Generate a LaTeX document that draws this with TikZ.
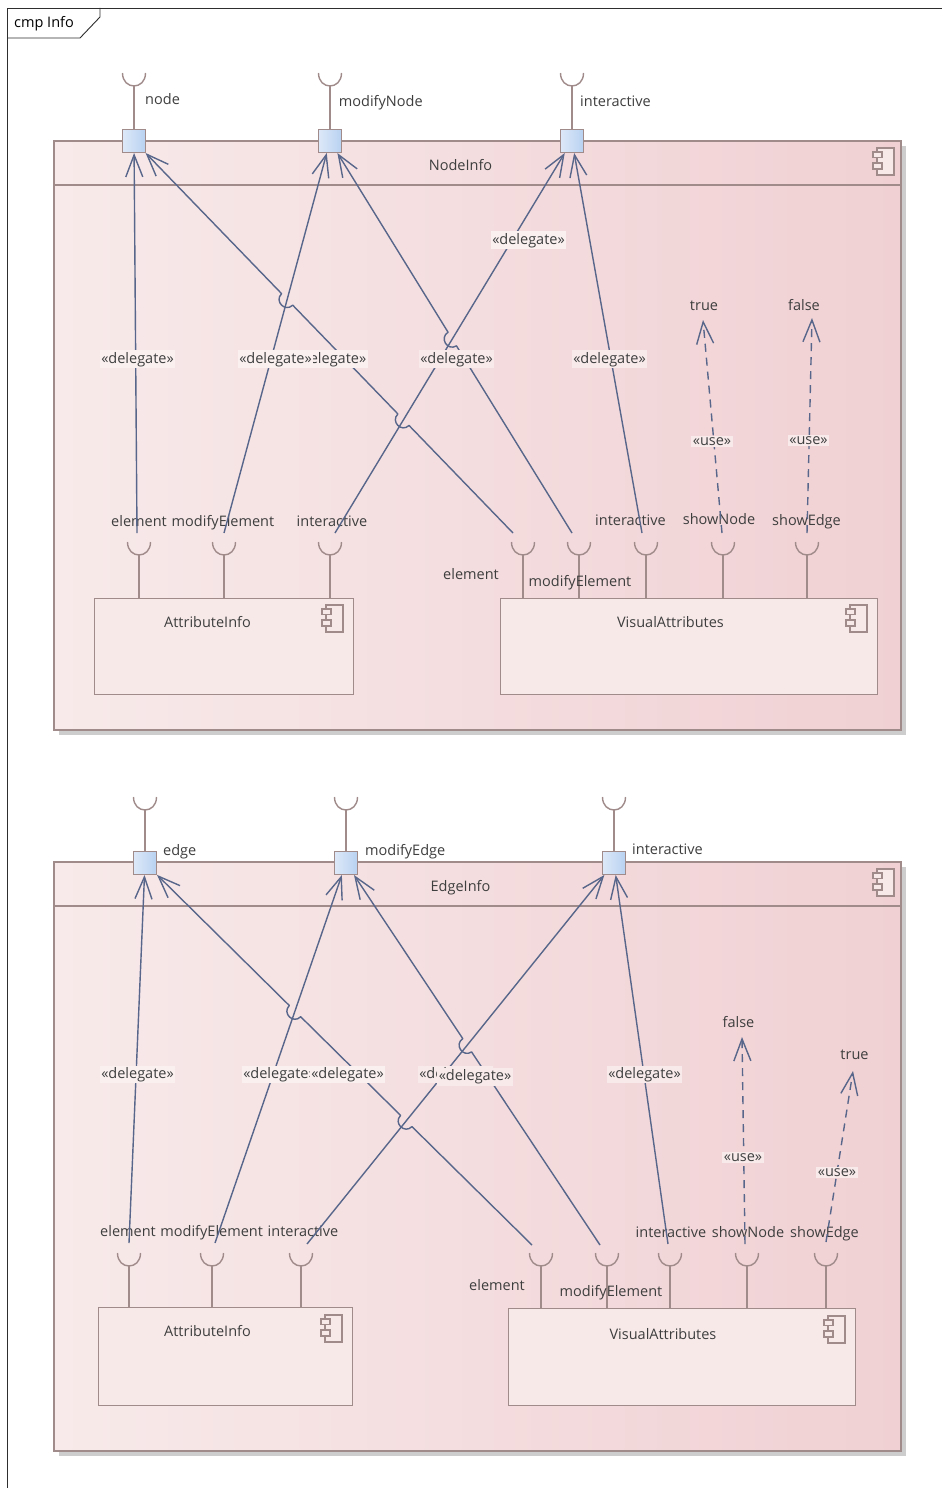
\documentclass[tikz,border=0pt]{standalone}
\usepackage{fontspec}
\setmainfont{Open Sans}
\usetikzlibrary{calc,arrows.meta}

\definecolor{frameline}{HTML}{2E2E2E}
\definecolor{compline}{HTML}{A08A8A}
\definecolor{compleft}{HTML}{F8EAEA}
\definecolor{compright}{HTML}{F0D0D3}
\definecolor{innerfill}{HTML}{F8E9E9}
\definecolor{shadowc}{HTML}{CDCDCD}
\definecolor{conn}{HTML}{57668A}
\definecolor{txt}{HTML}{3E3E3E}
\definecolor{portleft}{HTML}{DDE9F8}
\definecolor{portright}{HTML}{B8D1F1}
\definecolor{lblbgL}{HTML}{FAF0F0}
\definecolor{lblbgR}{HTML}{F8EAEB}

\tikzset{
  every node/.style={font=\fontsize{14.5}{17}\selectfont, text=txt, inner sep=0pt},
  framebox/.style={draw=frameline, line width=0.9pt},
  outercomp/.style={draw=compline, line width=1.4pt, left color=compleft, right color=compright},
  headerline/.style={draw=compline, line width=1.4pt},
  innercomp/.style={draw=compline, line width=1.4pt, fill=innerfill, anchor=north west},
  shadowbox/.style={fill=shadowc},
  port/.style={draw=compline, line width=1pt, left color=portleft, right color=portright, minimum size=23pt},
  socketline/.style={draw=compline, line width=1.4pt},
  icon/.style={draw=compline, line width=1.1pt, fill=innerfill},
  deleg/.style={draw=conn, line width=1.4pt, line join=round, -{Straight Barb[length=22pt,width=17pt]}},
  usedep/.style={deleg, dash pattern=on 8pt off 6pt},
  hop/.style={bend left=90, looseness=1.7},
  stereo/.style={fill=lblbgL, inner sep=1.5pt, anchor=base},
  stereoR/.style={fill=lblbgR, inner sep=1.5pt, anchor=base},
  lbl/.style={anchor=base},
  lblw/.style={anchor=base west},
}

% required-interface cup: #1 = x, #2 = y of the rim, #3 = y where the stem ends
\newcommand\socketcup[3]{%
  \draw[socketline] (#1-11.5,#2) .. controls (#1-11.5,#2+17.3) and (#1+11.5,#2+17.3) .. (#1+11.5,#2);
  \draw[socketline] (#1,#2+13) -- (#1,#3);
}
% component glyph with its top-left corner at (#1,#2)
\newcommand\compicon[2]{%
  \draw[icon] (#1+4,#2) rectangle (#1+21,#2+27);
  \draw[icon] (#1,#2+4) rectangle (#1+9,#2+9.5);
  \draw[icon] (#1,#2+15) rectangle (#1+9,#2+21);
}
% little drop shadow behind a port
\newcommand\portshadow[1]{%
  \fill[shadowc] ($(#1.north west)+(3,-0.5)$) rectangle ($(#1.south east)+(2.5,2.5)$);
}

\begin{document}
\begin{tikzpicture}[x=1pt, y=-1pt]
\useasboundingbox (0,0) rectangle (942,1488);
\fill[white] (0,0) rectangle (942,1488);

% ---------- diagram frame ----------
\draw[framebox] (942,8) -- (7,8) -- (7,1488);
\draw[framebox] (7,38) -- (80,38) -- (100,17) -- (100,8);
\node[lblw, text=black] (frameTitle) at (14,27.3) {cmp Info};

% =================== NodeInfo ===================
\fill[shadowbox] (59,146) rectangle (906,735);
\draw[outercomp] (54,141) rectangle (901,730);
\draw[headerline] (54,185) -- (901,185);
\node[lbl] (nodeInfoTitle) at (460.5,170) {NodeInfo};
\compicon{873}{148}

\node[innercomp, minimum width=259pt, minimum height=96pt] (attrA) at (94,598) {};
\node[lbl] (attrATitle) at (207.5,627.3) {AttributeInfo};
\compicon{322}{605}
\node[innercomp, minimum width=377pt, minimum height=96pt] (visA) at (500,598) {};
\node[lbl] (visATitle) at (670.5,627.3) {VisualAttributes};
\compicon{846}{605}

\socketcup{139}{542}{598}
\socketcup{224}{542}{598}
\socketcup{330}{542}{598}
\socketcup{523}{542}{598}
\socketcup{579}{542}{598}
\socketcup{646}{542}{598}
\socketcup{723}{542}{598}
\socketcup{807}{542}{598}

\socketcup{134}{73}{129.5}
\socketcup{330}{73}{129.5}
\socketcup{572}{73}{129.5}

\node[port] (pNode) at (134,141) {};
\node[port] (pModNode) at (330,141) {};
\node[port] (pInter) at (572,141) {};

\node[lblw] (lNode) at (145,104) {node};
\node[lblw] (lModNode) at (338.7,106.5) {modifyNode};
\node[lblw] (lInter) at (580,106.5) {interactive};

\node[lbl] (lA1) at (139,526) {element};
\node[lbl] (lA2) at (223,526) {modifyElement};
\node[lbl] (lA3) at (332,526) {interactive};
\node[lbl] (lV1) at (471,579.3) {element};
\node[lbl] (lV2) at (580,586.7) {modifyElement};
\node[lbl] (lV3) at (630.5,525.7) {interactive};
\node[lbl] (lV4) at (719,524) {showNode};
\node[lbl] (lV5) at (806.5,525.7) {showEdge};
\node[lbl] (trueA) at (704,310.7) {true};
\node[lbl] (falseA) at (804,310.7) {false};

\coordinate (a1) at (137,533);
\coordinate (a2) at (224,533);
\coordinate (a3) at (335,533);
\coordinate (v1) at (513,533);
\coordinate (v2) at (572,533);
\coordinate (v3) at (642,533);
\coordinate (v4) at (722,533);
\coordinate (v5) at (807,533);
\coordinate (trueTipA) at (703,320);
\coordinate (falseTipA) at (812,318);

\coordinate (hA) at (intersection of v1--pNode and a2--pModNode);
\coordinate (hB) at (intersection of v1--pNode and a3--pInter);
\coordinate (hC) at (intersection of v2--pModNode and a3--pInter);

\draw[deleg] (a1) -- (pNode);
\draw[deleg] (a2) -- (pModNode);
\draw[deleg] (a3) -- (pInter);
\draw[deleg] (v1) -- ($(hB)!8pt!(v1)$) to[hop] ($(hB)!8pt!(pNode)$)
  -- ($(hA)!8pt!(v1)$) to[hop] ($(hA)!8pt!(pNode)$) -- (pNode);
\draw[deleg] (v2) -- ($(hC)!8pt!(v2)$) to[hop] ($(hC)!8pt!(pModNode)$) -- (pModNode);
\draw[deleg] (v3) -- (pInter);
\draw[usedep] (v4) -- (trueTipA);
\draw[usedep] (v5) -- (falseTipA);

\node[stereo] (sA1) at (137.5,363) {«delegate»};
\node[stereo] (sV1) at (330,363) {«delegate»};
\node[stereo] (sA2) at (275.5,363) {«delegate»};
\node[stereo] (sA3) at (528.5,244) {«delegate»};
\node[stereoR] (sV2) at (456.5,363) {«delegate»};
\node[stereoR] (sV3) at (609.5,363) {«delegate»};
\node[stereoR] (sV4) at (712,445.7) {«use»};
\node[stereoR] (sV5) at (808.5,444) {«use»};

% =================== EdgeInfo ===================
\fill[shadowbox] (59,867) rectangle (906,1456);
\draw[outercomp] (54,862) rectangle (901,1451);
\draw[headerline] (54,906) -- (901,906);
\node[lbl] (edgeInfoTitle) at (460.5,891) {EdgeInfo};
\compicon{873}{869}

\node[innercomp, minimum width=254pt, minimum height=98pt] (attrB) at (98,1307) {};
\node[lbl] (attrBTitle) at (207.5,1336.7) {AttributeInfo};
\compicon{321}{1315}
\node[innercomp, minimum width=347pt, minimum height=97pt] (visB) at (508,1308) {};
\node[lbl] (visBTitle) at (663,1339) {VisualAttributes};
\compicon{824}{1316}

\socketcup{129}{1253}{1307}
\socketcup{212}{1253}{1307}
\socketcup{301}{1253}{1307}
\socketcup{541}{1253}{1308}
\socketcup{607}{1253}{1308}
\socketcup{670}{1253}{1308}
\socketcup{747}{1253}{1308}
\socketcup{826}{1253}{1308}

\socketcup{145}{797}{851.5}
\socketcup{346}{797}{851.5}
\socketcup{614}{797}{851.5}

\node[port] (pEdge) at (145,863) {};
\node[port] (pModEdge) at (346,863) {};
\node[port] (pInterB) at (614,863) {};

\node[lblw] (lEdge) at (163,855.3) {edge};
\node[lblw] (lModEdge) at (365,855.3) {modifyEdge};
\node[lblw] (lInterB) at (632,854.5) {interactive};

\node[lbl] (lB1) at (128,1236) {element};
\node[lbl] (lB2) at (211.7,1236) {modifyElement};
\node[lbl] (lB3) at (303,1236) {interactive};
\node[lbl] (lW1) at (497,1290) {element};
\node[lbl] (lW2) at (611,1296) {modifyElement};
\node[lbl] (lW3) at (671,1237.3) {interactive};
\node[lbl] (lW4) at (748,1237.3) {showNode};
\node[lbl] (lW5) at (824.5,1237.3) {showEdge};
\node[lbl] (falseB) at (738.5,1027) {false};
\node[lbl] (trueB) at (854.5,1059) {true};

\coordinate (b1) at (129,1243);
\coordinate (b2) at (215,1243);
\coordinate (b3) at (307,1244);
\coordinate (w1) at (532,1245);
\coordinate (w2) at (600,1245);
\coordinate (w3) at (668,1244);
\coordinate (w4) at (745,1244);
\coordinate (w5) at (826,1242);
\coordinate (falseTipB) at (742,1037);
\coordinate (trueTipB) at (853,1071);

\coordinate (hD) at (intersection of w1--pEdge and b2--pModEdge);
\coordinate (hE) at (intersection of w1--pEdge and b3--pInterB);
\coordinate (hF) at (intersection of w2--pModEdge and b3--pInterB);

\draw[deleg] (b1) -- (pEdge);
\draw[deleg] (b2) -- (pModEdge);
\draw[deleg] (b3) -- (pInterB);
\draw[deleg] (w1) -- ($(hE)!8pt!(w1)$) to[hop] ($(hE)!8pt!(pEdge)$)
  -- ($(hD)!8pt!(w1)$) to[hop] ($(hD)!8pt!(pEdge)$) -- (pEdge);
\draw[deleg] (w2) -- ($(hF)!8pt!(w2)$) to[hop] ($(hF)!8pt!(pModEdge)$) -- (pModEdge);
\draw[deleg] (w3) -- (pInterB);
\draw[usedep] (w4) -- (falseTipB);
\draw[usedep] (w5) -- (trueTipB);

\node[stereo] (sB1) at (137.5,1078.3) {«delegate»};
\node[stereo] (sB2) at (279.5,1078.3) {«delegate»};
\node[stereo] (sW1) at (347.5,1078.3) {«delegate»};
\node[stereoR] (sB3) at (455.5,1078.3) {«delegate»};
\node[stereoR] (sW2) at (475,1080.7) {«delegate»};
\node[stereoR] (sW3) at (644.5,1078.3) {«delegate»};
\node[stereoR] (sW4) at (743,1161.7) {«use»};
\node[stereoR] (sW5) at (837,1176.7) {«use»};
\end{tikzpicture}
\end{document}
